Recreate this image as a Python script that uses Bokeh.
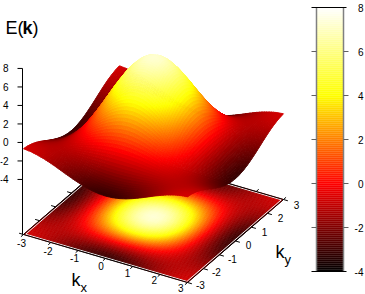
from bokeh.plotting import figure
from bokeh.embed import file_html
from bokeh.resources import INLINE
from bokeh.core.properties import value

# Heights E(kx, ky), one quadrant, k = 0 .. 3 in 0.25 steps
k_quadrant = [0, .25, .5, .75, 1, 1.25, 1.5, 1.75, 2, 2.25, 2.5, 2.75, 3]
E_quadrant = [
 [7.35,7.19,6.70,5.93,4.91,3.72,2.43,1.11,-.16,-1.28,-2.20,-2.85,-3.20],
 [7.19,7.03,6.55,5.79,4.80,3.63,2.36,1.06,-.17,-1.28,-2.18,-2.82,-3.16],
 [6.70,6.55,6.11,5.39,4.45,3.35,2.15,.93,-.23,-1.27,-2.12,-2.72,-3.04],
 [5.93,5.79,5.39,4.75,3.90,2.91,1.83,.73,-.32,-1.26,-2.02,-2.57,-2.86],
 [4.91,4.80,4.45,3.90,3.17,2.32,1.40,.46,-.44,-1.25,-1.90,-2.36,-2.61],
 [3.72,3.63,3.35,2.91,2.32,1.64,.90,.14,-.58,-1.23,-1.75,-2.13,-2.33],
 [2.43,2.36,2.15,1.83,1.40,.90,.35,-.21,-.74,-1.21,-1.60,-1.87,-2.02],
 [1.11,1.06,.93,.73,.46,.14,-.21,-.56,-.89,-1.19,-1.44,-1.61,-1.70],
 [-.16,-.17,-.23,-.32,-.44,-.58,-.74,-.89,-1.04,-1.18,-1.28,-1.36,-1.40],
 [-1.28,-1.28,-1.27,-1.26,-1.25,-1.23,-1.21,-1.19,-1.18,-1.16,-1.15,-1.14,-1.13],
 [-2.20,-2.18,-2.12,-2.02,-1.90,-1.75,-1.60,-1.44,-1.28,-1.15,-1.04,-.96,-.92],
 [-2.85,-2.82,-2.72,-2.57,-2.36,-2.13,-1.87,-1.61,-1.36,-1.14,-.96,-.83,-.76],
 [-3.20,-3.16,-3.04,-2.86,-2.61,-2.33,-2.02,-1.70,-1.40,-1.13,-.92,-.76,-.68],
]
z_ticks = [-4, -2, 0, 2, 4, 6, 8]
k_ticks = [-3, -2, -1, 0, 1, 2, 3]
cb_ticks = [-4, -2, 0, 2, 4, 6, 8]
cb_min, cb_max = -4, 8
z_base = -9.95

# view: orthographic projection read from the base plane corners and z axis
def px(kx, ky): return 153 + 27.33 * kx + 16 * ky
def py(kx, ky, z): return 216.5 + 8 * kx - 13.83 * ky - (z - z_base) * 9.25

def hot(z):
    t = min(1.0, max(0.0, (z - cb_min) / (cb_max - cb_min)))
    ch = lambda v: int(round(255 * min(1.0, max(0.0, v))))
    return "#%02x%02x%02x" % (ch(3 * t), ch(3 * t - 1), ch(3 * t - 2))

# full grid by mirroring the quadrant
ks = [-k for k in reversed(k_quadrant[1:])] + k_quadrant
def E(i, j):
    n = len(k_quadrant) - 1
    return E_quadrant[abs(i - n)][abs(j - n)]

SUB = 4  # shading steps per table cell
cells = []
N = len(ks) - 1
for i in range(N):
    for j in range(N):
        z00, z10, z01, z11 = E(i, j), E(i + 1, j), E(i, j + 1), E(i + 1, j + 1)
        for a in range(SUB):
            for b in range(SUB):
                u = [a / SUB, (a + 1) / SUB]
                v = [b / SUB, (b + 1) / SUB]
                def P(uu, vv):
                    kx = ks[i] + (ks[i + 1] - ks[i]) * uu
                    ky = ks[j] + (ks[j + 1] - ks[j]) * vv
                    z = (z00 * (1 - uu) * (1 - vv) + z10 * uu * (1 - vv)
                         + z01 * (1 - uu) * vv + z11 * uu * vv)
                    return kx, ky, z
                corners = [P(u[0], v[0]), P(u[1], v[0]), P(u[1], v[1]), P(u[0], v[1])]
                cells.append(corners)

def depth(c):
    kx = sum(p[0] for p in c) / 4
    ky = sum(p[1] for p in c) / 4
    return 8 * kx - 13.83 * ky

cells.sort(key=depth)

def area(xs, ys):
    return sum(xs[n] * ys[(n + 1) % 4] - xs[(n + 1) % 4] * ys[n] for n in range(4))

p = figure(width=365, height=294, x_range=(0, 365), y_range=(294, 0),
           toolbar_location=None, output_backend="svg", min_border=0,
           outline_line_color=None)
p.axis.visible = False
p.grid.visible = False

FONT = value("Liberation Sans")

# base projection
bx, by, bc = [], [], []
for c in cells:
    m = sum(q[2] for q in c) / 4
    bx.append([px(q[0], q[1]) for q in c])
    by.append([py(q[0], q[1], z_base) for q in c])
    bc.append(hot(m))
p.patches(bx, by, fill_color=bc, line_color=bc, line_width=0.5)

# base frame: black edge with a pale line just inside it
lo, hi = k_ticks[0], k_ticks[-1]
def edge(k0, l0, k1, l1, color="black", width=1.0):
    p.line([px(k0, l0), px(k1, l1)], [py(k0, l0, z_base), py(k1, l1, z_base)],
           line_color=color, line_width=width)
ins = 0.05
edge(lo + ins, lo + ins, hi - ins, lo + ins, "#f0f0f0")
edge(hi - ins, lo + ins, hi - ins, hi - ins, "#f0f0f0")
edge(hi - ins, hi - ins, lo + ins, hi - ins, "#f0f0f0")
edge(lo + ins, hi - ins, lo + ins, lo + ins, "#f0f0f0")
edge(lo, lo, hi, lo); edge(hi, lo, hi, hi); edge(hi, hi, lo, hi); edge(lo, hi, lo, lo)

# outward tick marks on the base frame
tl = 0.16
for t in k_ticks:
    edge(t, lo, t, lo - tl)
    edge(t, hi, t, hi + tl)
    edge(hi, t, hi + tl, t)
    edge(lo, t, lo - tl, t)

# z axis
zx = px(lo, lo) - 1
p.line([zx, zx], [py(lo, lo, 8), py(lo, lo, z_base)], line_color="black", line_width=1)

# surface: cells turned away from the viewer are hidden by the hump, so they are skipped
sx, sy, sc = [], [], []
for c in cells:
    m = sum(q[2] for q in c) / 4
    xs = [px(q[0], q[1]) for q in c]
    ys = [py(q[0], q[1], q[2]) for q in c]
    bs = [py(q[0], q[1], z_base) for q in c]
    if area(xs, ys) * area(xs, bs) <= 0:
        continue
    sx.append(xs)
    sy.append(ys)
    sc.append(hot(m))
p.patches(sx, sy, fill_color=sc, line_color=sc, line_width=0.9)

# z ticks and labels
for z in z_ticks:
    y = py(lo, lo, z)
    p.line([zx - 5, zx], [y, y], line_color="black", line_width=1)
p.text([zx - 14] * len(z_ticks), [py(lo, lo, z) for z in z_ticks], text=[str(z) for z in z_ticks],
       text_font=FONT, text_font_size="10px", text_align="right", text_baseline="middle", text_color="black")

# k tick labels
p.text([px(t, lo) - 2 - (t + 3) * 0.8 for t in k_ticks], [py(t, lo, z_base) + 9 - (t + 3) * 0.6 for t in k_ticks],
       text=[str(t) for t in k_ticks],
       text_font=FONT, text_font_size="10px", text_align="center", text_baseline="middle", text_color="black")
p.text([px(hi, t) + 13 for t in k_ticks], [py(hi, t, z_base) + 3 + (t + 3) * 0.4 for t in k_ticks],
       text=[str(t) for t in k_ticks],
       text_font=FONT, text_font_size="10px", text_align="center", text_baseline="middle", text_color="black")

# colour box
CB_L, CB_R, CB_T, CB_B = 316, 343, 7, 271
def cby(z): return CB_B + (z - cb_min) * (CB_T - CB_B) / (cb_max - cb_min)
rows = 132
levels = [cb_min + (cb_max - cb_min) * n / rows for n in range(rows)]
p.quad(left=CB_L, right=CB_R,
       bottom=[cby(l) + 0.2 for l in levels],
       top=[cby(l + (cb_max - cb_min) / rows) for l in levels],
       fill_color=[hot(l + (cb_max - cb_min) / (2 * rows)) for l in levels], line_color=None)
GREY = "#808080"
p.line([CB_L, CB_L], [CB_T, CB_B], line_color=GREY, line_width=1.5)
p.line([CB_R, CB_R], [CB_T, CB_B], line_color=GREY, line_width=1.5)
for z in cb_ticks[1:-1]:
    p.line([CB_L - 5, CB_L], [cby(z), cby(z)], line_color="#606060", line_width=1)
    p.line([CB_R, CB_R + 5], [cby(z), cby(z)], line_color="#606060", line_width=1)
for z in (cb_min, cb_max):
    p.line([CB_L - 5, CB_R + 3], [cby(z), cby(z)], line_color="black", line_width=1)
p.text([CB_R + 20] * len(cb_ticks), [cby(z) for z in cb_ticks], text=[str(z) for z in cb_ticks],
       text_font=FONT, text_font_size="10px", text_align="right", text_baseline="middle", text_color="black")

# titles
def label(x, y, s, size, style="normal"):
    p.text([x], [y], text=[s], text_font=FONT, text_font_size=size, text_font_style=style,
           text_align="left", text_baseline="middle", text_color="black")
label(5, 27, "E(", "18px")
label(22, 27, "k", "18px", "bold")
label(32, 27, ")", "18px")
label(71, 279, "k", "18px")
label(80, 287, "x", "13px")
label(275, 251, "k", "18px")
label(284, 259, "y", "13px")

open("out.html", "w").write(file_html(p, INLINE))
